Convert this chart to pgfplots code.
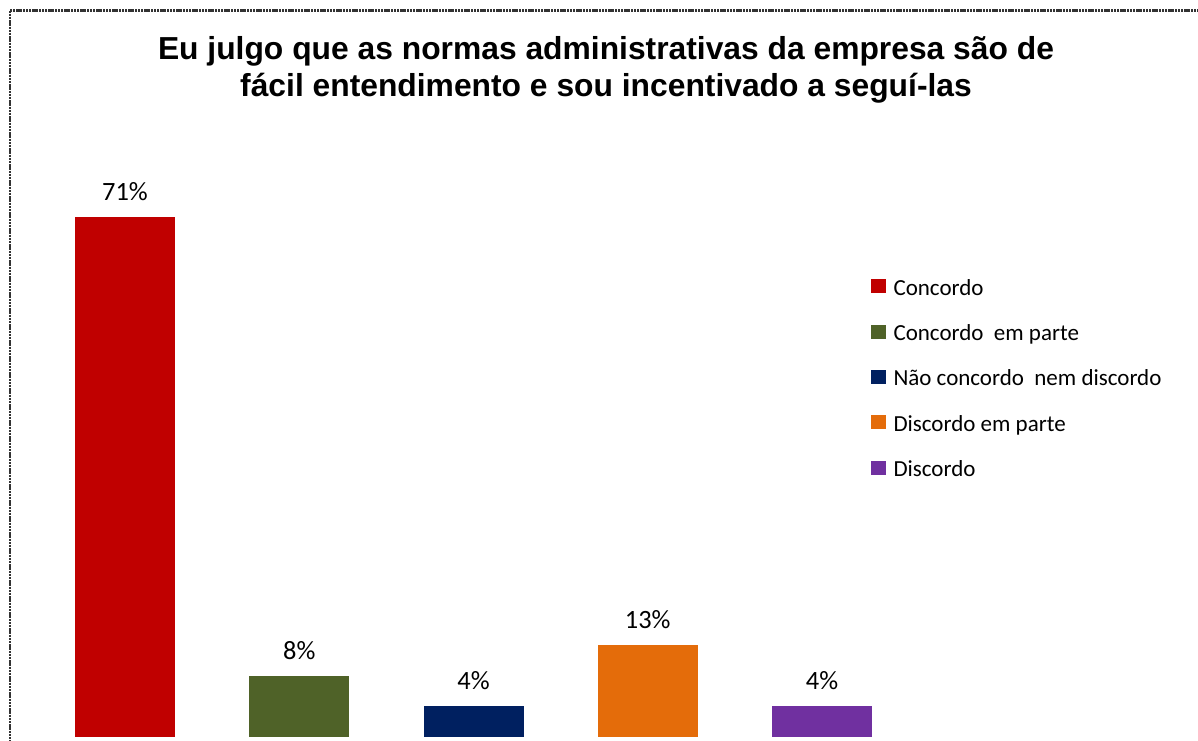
\documentclass[border=0pt]{standalone}
\usepackage{pgfplots}
\pgfplotsset{compat=1.18}
\usepackage{fontspec}
\setmainfont{Carlito}
\newfontfamily\titlefont{Liberation Sans}

\definecolor{cConc}{HTML}{C00000}
\definecolor{cConcParte}{HTML}{4F6228}
\definecolor{cNem}{HTML}{002060}
\definecolor{cDiscParte}{HTML}{E46C0A}
\definecolor{cDisc}{HTML}{7030A0}

\begin{document}
\begin{tikzpicture}
% page = 1198 x 740 px, 1 px = 0.5pt
\useasboundingbox (0,0) rectangle (599pt,370pt);
\begin{scope}
\clip (0,0) rectangle (599pt,370pt);
\draw[black!80, line width=1.2pt, dash pattern=on 1.2pt off 0.4pt]
  (4.9pt,364.7pt) rectangle (620pt,-20pt);
\end{scope}

\node[font=\titlefont\bfseries\fontsize{15.9}{18.5}\selectfont, anchor=base]
  at (303pt,340pt) {Eu julgo que as normas administrativas da empresa são de};
\node[font=\titlefont\bfseries\fontsize{15.9}{18.5}\selectfont, anchor=base]
  at (303pt,321.5pt) {fácil entendimento e sou incentivado a seguí-las};

\begin{axis}[
  at={(18.94pt,1.5pt)}, anchor=south west,
  x=87.125pt, y=3.67pt,
  xmin=-0.5, xmax=5.5, ymin=0, ymax=80,
  hide axis, clip=false,
  ybar, bar width=50pt,
  every axis plot/.append style={bar shift=0pt, draw=none},
  point meta=explicit symbolic,
  nodes near coords={\pgfplotspointmeta\%},
  every node near coord/.append style={font=\fontsize{13.2}{15}\selectfont,
    inner sep=0pt, anchor=south, yshift=8pt, text=black},
  legend image code/.code={\fill[#1] (0pt,-2pt) rectangle (7.5pt,5pt);},
  legend cell align=left,
  legend style={at={(0.796,0.78)}, anchor=north west, draw=none, fill=none,
    inner sep=0pt, row sep=12.65pt,
    nodes={inner ysep=0pt, inner xsep=4pt, text height=8pt, text depth=2pt,
      font=\fontsize{11.5}{13}\selectfont}},
]
\addplot[fill=cConc, bar shift=0pt] table[meta=lab] {
x y lab
0 70.83 71
};
\addlegendentry{Concordo}
\addplot[fill=cConcParte, bar shift=0pt] table[meta=lab] {
x y lab
1 8.33 8
};
\addlegendentry{Concordo\ \ em parte}
\addplot[fill=cNem, bar shift=0pt] table[meta=lab] {
x y lab
2 4.17 4
};
\addlegendentry{Não concordo\ \ nem discordo}
\addplot[fill=cDiscParte, bar shift=0pt] table[meta=lab] {
x y lab
3 12.5 13
};
\addlegendentry{Discordo em parte}
\addplot[fill=cDisc, bar shift=0pt] table[meta=lab] {
x y lab
4 4.17 4
};
\addlegendentry{Discordo}
\end{axis}
\end{tikzpicture}
\end{document}
